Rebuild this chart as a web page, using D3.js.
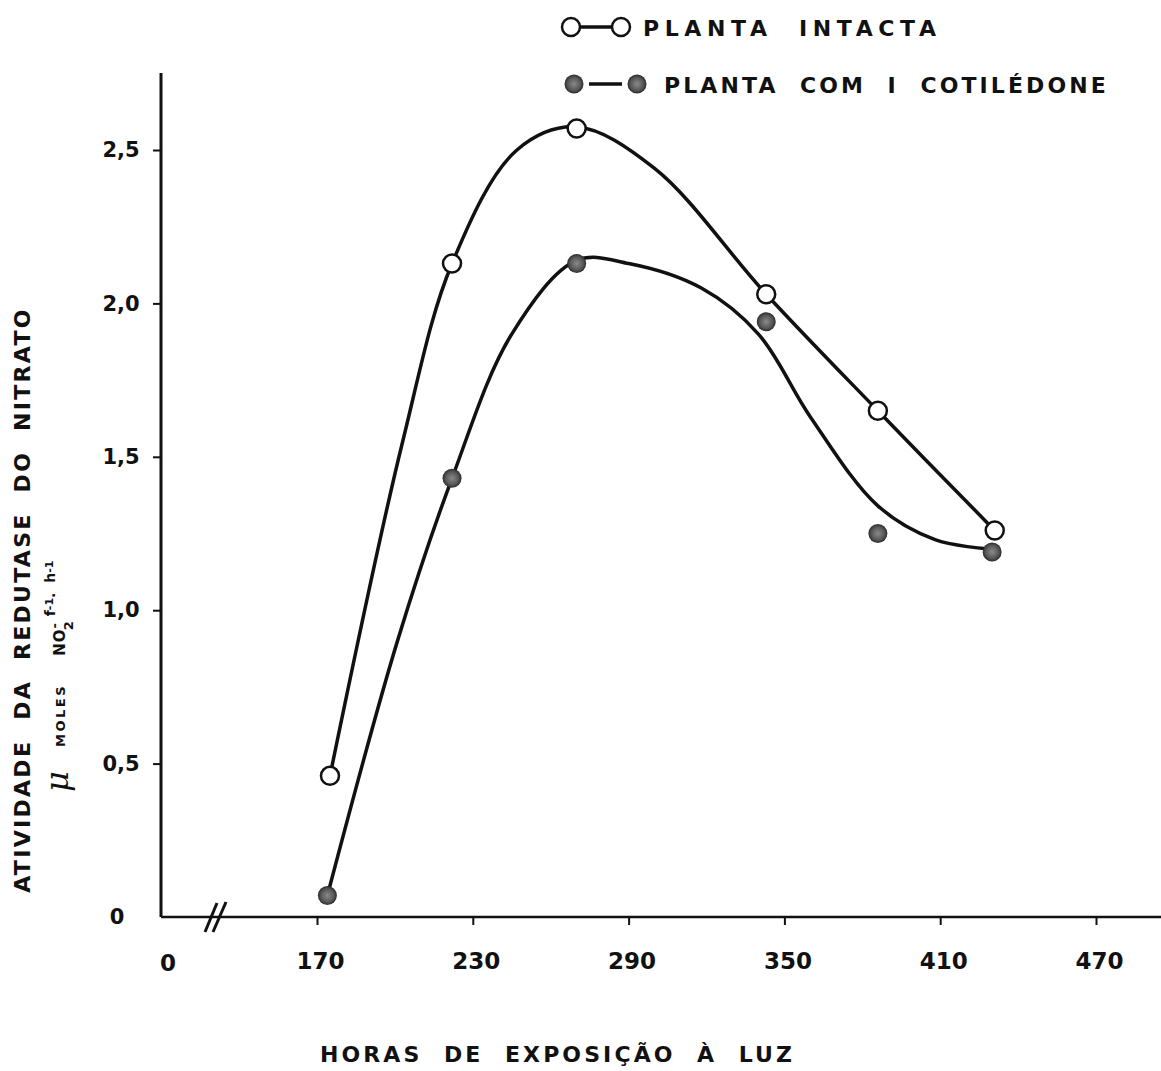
<!DOCTYPE html>
<html>
<head>
<meta charset="utf-8">
<script src="https://cdn.jsdelivr.net/npm/d3@7"></script>
<style>
  body { margin: 0; background: #fff; }
  svg { display: block; }
  text { font-family: "DejaVu Sans", sans-serif; font-weight: bold; fill: #111; white-space: pre; }
</style>
</head>
<body>
<svg id="chart" width="1161" height="1071"></svg>
<script>
// measured points
const intactHours = [175, 222, 270, 343, 386, 431];
const intactValues = [0.46, 2.13, 2.57, 2.03, 1.65, 1.26];
const cotyHours = [174, 222, 270, 343, 386, 430];
const cotyValues = [0.07, 1.43, 2.13, 1.94, 1.25, 1.19];

// hand drawn curves
const intactCurveHours = [175, 203, 222, 247, 270, 300, 343, 386, 431];
const intactCurveValues = [0.46, 1.55, 2.13, 2.50, 2.575, 2.44, 2.03, 1.65, 1.26];
const cotyCurveHours = [174, 201, 222, 245, 270, 290, 318, 340, 360, 386, 408, 428];
const cotyCurveValues = [0.07, 0.90, 1.43, 1.90, 2.14, 2.13, 2.05, 1.90, 1.63, 1.34, 1.23, 1.20];

const xTicks = [170, 230, 290, 350, 410, 470];
const yTicks = [0, 0.5, 1.0, 1.5, 2.0, 2.5];

const svg = d3.select('#chart');
const origin = { x: 161, y: 917 };

const x = d3.scaleLinear().domain([170, 470]).range([317, 1096]);
const y = d3.scaleLinear().domain([0, 2.5]).range([origin.y, 150]);

// filled marker look
const grad = svg.append('defs').append('radialGradient').attr('id', 'dot');
grad.append('stop').attr('offset', '0%').attr('stop-color', '#8a8a8a');
grad.append('stop').attr('offset', '70%').attr('stop-color', '#555');
grad.append('stop').attr('offset', '100%').attr('stop-color', '#2a2a2a');

// axes lines
svg.append('line').attr('x1', origin.x).attr('x2', origin.x).attr('y1', 73).attr('y2', origin.y)
  .attr('stroke', '#111').attr('stroke-width', 3);
svg.append('line').attr('x1', origin.x).attr('x2', 1161).attr('y1', origin.y).attr('y2', origin.y)
  .attr('stroke', '#111').attr('stroke-width', 2.5);

// axis break
[[205, 932, 217, 903], [213, 932, 226, 902]].forEach(s => {
  svg.append('line').attr('x1', s[0]).attr('y1', s[1]).attr('x2', s[2]).attr('y2', s[3])
    .attr('stroke', '#111').attr('stroke-width', 3);
});

const xAxis = svg.append('g')
  .attr('transform', `translate(0,${origin.y})`)
  .call(d3.axisBottom(x).tickValues(xTicks).tickSize(8).tickPadding(28).tickFormat(d3.format('d')));
xAxis.select('.domain').remove();
xAxis.selectAll('line').attr('stroke', '#111').attr('stroke-width', 2);
xAxis.selectAll('text').style('font-size', '23px').attr('fill', '#111').attr('dx', '3');

// the "0" at the broken origin
svg.append('text').attr('x', 168).attr('y', 971).attr('text-anchor', 'middle')
  .style('font-size', '23px').text('0');

const yAxis = svg.append('g')
  .attr('transform', `translate(${origin.x},0)`)
  .call(d3.axisLeft(y).tickValues(yTicks).tickSize(8).tickFormat(d => d === 0 ? '0' : d3.format('.1f')(d).replace('.', ',')));
yAxis.select('.domain').remove();
yAxis.selectAll('line').attr('stroke', '#111').attr('stroke-width', 2)
  .attr('display', d => d === 0 ? 'none' : null);
yAxis.selectAll('text').style('font-size', '21px').attr('fill', '#111')
  .attr('text-anchor', 'middle').attr('x', d => d === 0 ? -44 : -40);

// curves
const line = d3.line().x(d => x(d[0])).y(d => y(d[1])).curve(d3.curveCatmullRom.alpha(0.5));
svg.append('path').datum(intactCurveHours.map((h, i) => [h, intactCurveValues[i]]))
  .attr('d', line).attr('fill', 'none').attr('stroke', '#111').attr('stroke-width', 3.5);
svg.append('path').datum(cotyCurveHours.map((h, i) => [h, cotyCurveValues[i]]))
  .attr('d', line).attr('fill', 'none').attr('stroke', '#111').attr('stroke-width', 3.5);

// markers
svg.append('g').selectAll('circle').data(cotyHours).join('circle')
  .attr('cx', d => x(d)).attr('cy', (d, i) => y(cotyValues[i])).attr('r', 9.5)
  .attr('fill', 'url(#dot)');
svg.append('g').selectAll('circle').data(intactHours).join('circle')
  .attr('cx', d => x(d)).attr('cy', (d, i) => y(intactValues[i])).attr('r', 9)
  .attr('fill', '#fff').attr('stroke', '#111').attr('stroke-width', 2.5);

// legend
const leg = svg.append('g');
leg.append('line').attr('x1', 580).attr('x2', 612).attr('y1', 27).attr('y2', 27).attr('stroke', '#111').attr('stroke-width', 3.5);
[571, 621].forEach(cx => leg.append('circle').attr('cx', cx).attr('cy', 27).attr('r', 9)
  .attr('fill', '#fff').attr('stroke', '#111').attr('stroke-width', 2.5));
leg.append('text').attr('x', 643).attr('y', 36).style('font-size', '22px').style('letter-spacing', '5.6px')
  .text('PLANTA  INTACTA');
leg.append('line').attr('x1', 589).attr('x2', 622).attr('y1', 84).attr('y2', 84).attr('stroke', '#111').attr('stroke-width', 3.5);
[574, 637].forEach(cx => leg.append('circle').attr('cx', cx).attr('cy', 84).attr('r', 9.5)
  .attr('fill', 'url(#dot)'));
leg.append('text').attr('x', 664).attr('y', 93).style('font-size', '22px').style('letter-spacing', '3.1px')
  .text('PLANTA  COM  I  COTILÉDONE');

// axis titles
svg.append('text').attr('transform', 'translate(30,600) rotate(-90)').attr('text-anchor', 'middle')
  .style('font-size', '22px').style('letter-spacing', '2.3px')
  .text('ATIVIDADE  DA  REDUTASE  DO  NITRATO');

const unit = svg.append('text').attr('transform', 'translate(68,792) rotate(-90)');
unit.append('tspan').style('font-size', '32px').style('font-family', 'DejaVu Serif').style('font-style', 'italic').style('font-weight', 'normal').text('μ ');
unit.append('tspan').style('font-size', '13px').style('letter-spacing', '2.5px').attr('dy', -3).text('  MOLES    ');
unit.append('tspan').style('font-size', '15px').style('letter-spacing', '1px').text('NO');
unit.append('tspan').style('font-size', '13px').attr('dy', -6).text('-');
unit.append('tspan').style('font-size', '13px').attr('dx', -7).attr('dy', 14).text('2');
unit.append('tspan').style('font-size', '14px').attr('dy', -18).text(' f');
unit.append('tspan').style('font-size', '11px').attr('dy', -2).text('-1');
unit.append('tspan').style('font-size', '14px').attr('dy', 2).text('.  h');
unit.append('tspan').style('font-size', '11px').attr('dy', -2).text('-1');

svg.append('text').attr('x', 320).attr('y', 1062).style('font-size', '22px').style('letter-spacing', '3.1px')
  .text('HORAS  DE  EXPOSIÇÃO  À  LUZ');
</script>
</body>
</html>
